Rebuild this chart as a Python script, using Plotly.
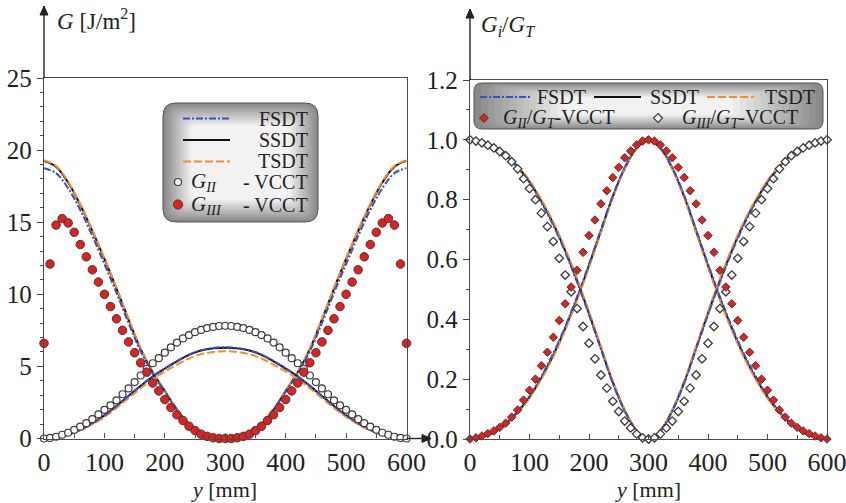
import plotly.graph_objects as go

W, H = 846, 503
FONT = "Liberation Serif"

# ---------------- data ----------------
y_line = [0, 20, 40, 60, 80, 100, 120, 140, 160, 180, 200, 220, 240, 260, 280, 300,
          320, 340, 360, 380, 400, 420, 440, 460, 480, 500, 520, 540, 560, 580, 600]
y_vcct = list(range(0, 601, 10))

# Left panel: energy release rates [J/m^2]
giii_fsdt = [18.75, 18.4, 17.35, 15.85, 14.05, 12.1, 10.1, 8.0, 6.05, 4.5, 3.25, 2.0, 1.0, 0.4, 0.08, 0.0,
             0.08, 0.4, 1.0, 2.0, 3.25, 4.5, 6.05, 8.0, 10.1, 12.1, 14.05, 15.85, 17.35, 18.4, 18.75]
giii_ssdt = [19.25, 18.85, 17.75, 16.2, 14.4, 12.45, 10.4, 8.25, 6.2, 4.6, 3.3, 2.0, 1.0, 0.4, 0.08, 0.0,
             0.08, 0.4, 1.0, 2.0, 3.3, 4.6, 6.2, 8.25, 10.4, 12.45, 14.4, 16.2, 17.75, 18.85, 19.25]
giii_tsdt = [19.3, 18.9, 17.8, 16.25, 14.45, 12.5, 10.45, 8.3, 6.25, 4.62, 3.3, 2.0, 1.0, 0.4, 0.08, 0.0,
             0.08, 0.4, 1.0, 2.0, 3.3, 4.62, 6.25, 8.3, 10.45, 12.5, 14.45, 16.25, 17.8, 18.9, 19.3]
gii_fsdt = [0.0, 0.08, 0.28, 0.6, 1.05, 1.6, 2.25, 2.95, 3.66, 4.31, 4.87, 5.37, 5.82, 6.12, 6.28, 6.33,
            6.28, 6.12, 5.82, 5.37, 4.87, 4.31, 3.66, 2.95, 2.25, 1.6, 1.05, 0.6, 0.28, 0.08, 0.0]
gii_ssdt = [0.0, 0.08, 0.28, 0.6, 1.05, 1.6, 2.25, 2.95, 3.65, 4.3, 4.85, 5.35, 5.8, 6.1, 6.25, 6.3,
            6.25, 6.1, 5.8, 5.35, 4.85, 4.3, 3.65, 2.95, 2.25, 1.6, 1.05, 0.6, 0.28, 0.08, 0.0]
gii_tsdt = [0.0, 0.07, 0.26, 0.56, 0.98, 1.5, 2.12, 2.8, 3.48, 4.12, 4.65, 5.12, 5.55, 5.85, 6.0, 6.05,
            6.0, 5.85, 5.55, 5.12, 4.65, 4.12, 3.48, 2.8, 2.12, 1.5, 0.98, 0.56, 0.26, 0.07, 0.0]

gii_vcct = [0.0, 0.04, 0.12, 0.26, 0.4, 0.6, 0.82, 1.06, 1.34, 1.67, 1.99, 2.3, 2.65, 3.07, 3.47, 3.91,
            4.37, 4.82, 5.22, 5.57, 5.95, 6.32, 6.65, 6.94, 7.17, 7.37, 7.53, 7.66, 7.74, 7.8, 7.82,
            7.8, 7.74, 7.66, 7.53, 7.37, 7.17, 6.94, 6.65, 6.32, 5.95, 5.57, 5.22, 4.82, 4.37, 3.91,
            3.47, 3.07, 2.65, 2.3, 1.99, 1.67, 1.34, 1.06, 0.82, 0.6, 0.4, 0.26, 0.12, 0.04, 0.0]
giii_vcct = [6.6, 12.1, 14.8, 15.25, 14.95, 14.3, 13.45, 12.6, 11.7, 10.85, 10.0, 9.15, 8.3, 7.5, 6.7, 5.95,
             5.25, 4.6, 3.85, 3.3, 2.7, 2.15, 1.65, 1.25, 0.85, 0.55, 0.3, 0.15, 0.05, 0.0, 0.0,
             0.0, 0.05, 0.15, 0.3, 0.55, 0.85, 1.25, 1.65, 2.15, 2.7, 3.3, 3.85, 4.6, 5.25, 5.95,
             6.7, 7.5, 8.3, 9.15, 10.0, 10.85, 11.7, 12.6, 13.45, 14.3, 14.95, 15.25, 14.8, 12.1, 6.6]

# Right panel: mode ratios Gi/GT
rii_fsdt = [0.0, 0.006, 0.023, 0.052, 0.093, 0.144, 0.21, 0.286, 0.376, 0.476, 0.585, 0.7, 0.814, 0.907, 0.973, 1.0,
            0.973, 0.907, 0.814, 0.7, 0.585, 0.476, 0.376, 0.286, 0.21, 0.144, 0.093, 0.052, 0.023, 0.006, 0.0]
rii_ssdt = [0.0, 0.006, 0.022, 0.05, 0.09, 0.14, 0.205, 0.28, 0.37, 0.47, 0.58, 0.695, 0.81, 0.905, 0.972, 1.0,
            0.972, 0.905, 0.81, 0.695, 0.58, 0.47, 0.37, 0.28, 0.205, 0.14, 0.09, 0.05, 0.022, 0.006, 0.0]
rii_tsdt = [0.0, 0.005, 0.021, 0.048, 0.087, 0.136, 0.2, 0.275, 0.364, 0.464, 0.574, 0.69, 0.806, 0.902, 0.97, 1.0,
            0.97, 0.902, 0.806, 0.69, 0.574, 0.464, 0.364, 0.275, 0.2, 0.136, 0.087, 0.048, 0.021, 0.005, 0.0]
riii_fsdt = [1.0, 0.994, 0.977, 0.948, 0.907, 0.856, 0.79, 0.714, 0.624, 0.524, 0.415, 0.3, 0.186, 0.093, 0.027, 0.0,
             0.027, 0.093, 0.186, 0.3, 0.415, 0.524, 0.624, 0.714, 0.79, 0.856, 0.907, 0.948, 0.977, 0.994, 1.0]
riii_ssdt = [1.0, 0.994, 0.978, 0.95, 0.91, 0.86, 0.795, 0.72, 0.63, 0.53, 0.42, 0.305, 0.19, 0.095, 0.028, 0.0,
             0.028, 0.095, 0.19, 0.305, 0.42, 0.53, 0.63, 0.72, 0.795, 0.86, 0.91, 0.95, 0.978, 0.994, 1.0]
riii_tsdt = [1.0, 0.995, 0.979, 0.952, 0.913, 0.864, 0.8, 0.725, 0.636, 0.536, 0.426, 0.31, 0.194, 0.098, 0.03, 0.0,
             0.03, 0.098, 0.194, 0.31, 0.426, 0.536, 0.636, 0.725, 0.8, 0.864, 0.913, 0.952, 0.979, 0.995, 1.0]

rii_vcct = [0.0, 0.004, 0.01, 0.018, 0.027, 0.039, 0.053, 0.073, 0.097, 0.13, 0.163, 0.2, 0.245, 0.29, 0.34, 0.396,
            0.452, 0.508, 0.564, 0.624, 0.68, 0.732, 0.786, 0.83, 0.874, 0.908, 0.94, 0.963, 0.983, 0.996, 1.0,
            0.996, 0.983, 0.963, 0.94, 0.908, 0.874, 0.83, 0.786, 0.732, 0.68, 0.624, 0.564, 0.508, 0.452, 0.396,
            0.34, 0.29, 0.245, 0.2, 0.163, 0.13, 0.097, 0.073, 0.053, 0.039, 0.027, 0.018, 0.01, 0.004, 0.0]
riii_vcct = [1.0, 0.996, 0.99, 0.982, 0.973, 0.961, 0.947, 0.927, 0.903, 0.87, 0.837, 0.8, 0.755, 0.71, 0.66, 0.604,
             0.548, 0.492, 0.436, 0.376, 0.32, 0.268, 0.214, 0.17, 0.126, 0.092, 0.06, 0.037, 0.017, 0.004, 0.0,
             0.004, 0.017, 0.037, 0.06, 0.092, 0.126, 0.17, 0.214, 0.268, 0.32, 0.376, 0.436, 0.492, 0.548, 0.604,
             0.66, 0.71, 0.755, 0.8, 0.837, 0.87, 0.903, 0.927, 0.947, 0.961, 0.973, 0.982, 0.99, 0.996, 1.0]

# ---------------- styles ----------------
BLUE = "#3550c8"
ORANGE = "#ff8a1e"
BLACK = "#111111"
RED = "#e3201c"
EDGE = "#3a3a3a"
DASH_F = "7px,2px,2px,2px"
DASH_T = "8px,3px"


def px(x):
    return x / W


def py(y):
    return 1 - y / H


fig = go.Figure()


def add_lines(xa, ya, ssdt, tsdt, fsdt):
    fig.add_trace(go.Scatter(x=y_line, y=ssdt, mode="lines", line=dict(color=BLACK, width=2, shape="spline"),
                             xaxis=xa, yaxis=ya, showlegend=False, name="SSDT"))
    fig.add_trace(go.Scatter(x=y_line, y=tsdt, mode="lines", line=dict(color=ORANGE, width=2, dash=DASH_T, shape="spline"),
                             xaxis=xa, yaxis=ya, showlegend=False, name="TSDT"))
    fig.add_trace(go.Scatter(x=y_line, y=fsdt, mode="lines", line=dict(color=BLUE, width=2, dash=DASH_F, shape="spline"),
                             xaxis=xa, yaxis=ya, showlegend=False, name="FSDT"))


add_lines("x", "y", giii_ssdt, giii_tsdt, giii_fsdt)
add_lines("x", "y", gii_ssdt, gii_tsdt, gii_fsdt)
add_lines("x2", "y2", rii_ssdt, rii_tsdt, rii_fsdt)
add_lines("x2", "y2", riii_ssdt, riii_tsdt, riii_fsdt)

fig.add_trace(go.Scatter(x=y_vcct, y=gii_vcct, mode="markers", cliponaxis=False, name="G_II - VCCT",
                         marker=dict(symbol="circle", size=7, color="white", line=dict(color=EDGE, width=1.2)),
                         xaxis="x", yaxis="y", showlegend=False))
fig.add_trace(go.Scatter(x=y_vcct, y=giii_vcct, mode="markers", cliponaxis=False, name="G_III - VCCT",
                         marker=dict(symbol="circle", size=8.5, color=RED, line=dict(color=EDGE, width=1)),
                         xaxis="x", yaxis="y", showlegend=False))
fig.add_trace(go.Scatter(x=y_vcct, y=riii_vcct, mode="markers", cliponaxis=False, name="G_III/G_T-VCCT",
                         marker=dict(symbol="diamond", size=6.5, color="white", line=dict(color=EDGE, width=1.3)),
                         xaxis="x2", yaxis="y2", showlegend=False))
fig.add_trace(go.Scatter(x=y_vcct, y=rii_vcct, mode="markers", cliponaxis=False, name="G_II/G_T-VCCT",
                         marker=dict(symbol="diamond", size=6.5, color=RED, line=dict(color=EDGE, width=1)),
                         xaxis="x2", yaxis="y2", showlegend=False))

# ---------------- axes ----------------
xtickfont = dict(family=FONT, size=26, color="#222222")
ytickfont = dict(family=FONT, size=25, color="#222222")
axcommon = dict(showline=True, linecolor="#4a4a4a", linewidth=1.4, mirror=True, showgrid=False,
                zeroline=False, tickcolor="#4a4a4a", tickwidth=1.2, automargin=False,
                ticklabeloverflow="allow")

fig.update_layout(
    width=W, height=H, margin=dict(l=0, r=0, t=0, b=0, autoexpand=False),
    paper_bgcolor="white", plot_bgcolor="white",
    xaxis=dict(domain=[px(44), px(406.5)], range=[0, 600], dtick=100, ticks="inside", ticklen=5, tickfont=xtickfont,
               minor=dict(dtick=50, ticks="inside", ticklen=4, tickcolor="#4a4a4a"), anchor="y", **axcommon),
    yaxis=dict(domain=[py(438.5), py(78)], range=[0, 25], dtick=5, ticks="outside", ticklen=6, tickfont=ytickfont,
               minor=dict(dtick=1, ticks="outside", ticklen=3, tickcolor="#4a4a4a"), anchor="x", **axcommon),
    xaxis2=dict(domain=[px(470), px(827)], range=[0, 600], dtick=100, ticks="inside", ticklen=5, tickfont=xtickfont,
                minor=dict(dtick=50, ticks="inside", ticklen=4, tickcolor="#4a4a4a"), anchor="y2", **axcommon),
    yaxis2=dict(domain=[py(439), py(80)], range=[0, 1.2], dtick=0.2, tickformat=".1f", ticks="outside", ticklen=6,
                tickfont=ytickfont,
                minor=dict(dtick=0.1, ticks="outside", ticklen=3, tickcolor="#4a4a4a"), anchor="x2", **axcommon),
)

annotations = []
shapes = []


def arrow(x0, y0, x1, y1):
    # axis extension line ending in a filled arrowhead at (x1, y1)
    shapes.append(dict(type="line", xref="paper", yref="paper", x0=px(x0), y0=py(y0), x1=px(x1), y1=py(y1),
                       line=dict(color="#222222", width=1.4)))
    L, Wd = 9, 4
    if x0 == x1:
        pts = [(x1, y1), (x1 + Wd, y1 + L), (x1 - Wd, y1 + L)]
    else:
        pts = [(x1, y1), (x1 - L, y1 - Wd), (x1 - L, y1 + Wd)]
    path = "M " + " L ".join(f"{px(a):.5f},{py(b):.5f}" for a, b in pts) + " Z"
    shapes.append(dict(type="path", xref="paper", yref="paper", path=path, fillcolor="#222222",
                       line=dict(color="#222222", width=1)))


arrow(44, 78, 44, 6)
arrow(406.5, 438.5, 431, 438.5)
arrow(470, 80, 470, 9)


def text(x, y, s, size=21, anchor="left"):
    annotations.append(dict(xref="paper", yref="paper", x=px(x), y=py(y), text=s, showarrow=False,
                            xanchor=anchor, yanchor="middle", borderpad=0,
                            font=dict(family=FONT, size=size, color="#222222")))


# axis titles
text(56, 19, "<i>G</i> [J/m<sup>2</sup>]", size=23)
text(480, 26, "<i>G</i><sub><i>i</i></sub>/<i>G</i><sub><i>T</i></sub>", size=23)
text(224, 489, "<i>y</i> [mm]", size=22, anchor="center")
text(648, 489, "<i>y</i> [mm]", size=22, anchor="center")


def rr_path(x0, y0, x1, y1, r):
    def p(x, y):
        return f"{px(x):.5f},{py(y):.5f}"
    return (f"M {p(x0 + r, y0)} L {p(x1 - r, y0)} Q {p(x1, y0)} {p(x1, y0 + r)} "
            f"L {p(x1, y1 - r)} Q {p(x1, y1)} {p(x1 - r, y1)} L {p(x0 + r, y1)} "
            f"Q {p(x0, y1)} {p(x0, y1 - r)} L {p(x0, y0 + r)} Q {p(x0, y0)} {p(x0 + r, y0)} Z")


def gradient_box(x0, y0, x1, y1, r, ix, iy, n=14, c0=138, c1=242):
    for i in range(n):
        t = i / (n - 1)
        g = int(c0 + (c1 - c0) * t)
        col = f"rgb({g},{g},{g})"
        dx, dy = ix * t, iy * t
        rr = max(r - min(dx, dy) * 0.3, 3)
        shapes.append(dict(type="path", xref="paper", yref="paper",
                           path=rr_path(x0 + dx, y0 + dy, x1 - dx, y1 - dy, rr), fillcolor=col,
                           line=dict(color="#555555" if i == 0 else col, width=1 if i == 0 else 0)))


def line_sample(x0, x1, y, color, dash):
    shapes.append(dict(type="line", xref="paper", yref="paper", x0=px(x0), x1=px(x1), y0=py(y), y1=py(y),
                       line=dict(color=color, width=2, dash=dash)))


def circle_sample(cx, cy, r, fill, lw):
    shapes.append(dict(type="circle", xref="paper", yref="paper", x0=px(cx - r), x1=px(cx + r),
                       y0=py(cy + r), y1=py(cy - r), fillcolor=fill, line=dict(color=EDGE, width=lw)))


def diamond_sample(cx, cy, h, fill, lw):
    path = (f"M {px(cx):.5f},{py(cy - h):.5f} L {px(cx + h):.5f},{py(cy):.5f} "
            f"L {px(cx):.5f},{py(cy + h):.5f} L {px(cx - h):.5f},{py(cy):.5f} Z")
    shapes.append(dict(type="path", xref="paper", yref="paper", path=path, fillcolor=fill,
                       line=dict(color=EDGE, width=lw)))


# left legend
gradient_box(163, 103, 318, 222, 13, 28, 22)
line_sample(183, 230, 118.5, BLUE, DASH_F)
line_sample(183, 230, 140, BLACK, "solid")
line_sample(183, 230, 161.5, ORANGE, DASH_T)
circle_sample(178, 182, 3.5, "white", 1.2)
circle_sample(178, 204.5, 4.6, RED, 1)
text(309, 118.5, "FSDT", size=20, anchor="right")
text(309, 140, "SSDT", size=20, anchor="right")
text(309, 161.5, "TSDT", size=20, anchor="right")
text(190, 182, "<i>G</i><sub><i>II</i></sub>", size=21)
text(309, 182, "- VCCT", size=20, anchor="right")
text(190, 205, "<i>G</i><sub><i>III</i></sub>", size=21)
text(309, 205, "- VCCT", size=20, anchor="right")

# right legend
gradient_box(474, 83, 823, 129, 8, 90, 14)
line_sample(480, 530, 97, BLUE, DASH_F)
line_sample(594, 641, 97, BLACK, "solid")
line_sample(707, 754, 97, ORANGE, DASH_T)
diamond_sample(484, 118, 4.5, RED, 1)
diamond_sample(658, 118, 4.5, "white", 1.2)
text(536, 97, "FSDT", size=20)
text(649, 97, "SSDT", size=20)
text(764, 97, "TSDT", size=20)
text(502, 118.5, "<i>G</i><sub><i>II</i></sub>/<i>G</i><sub><i>T</i></sub>-VCCT", size=20)
text(681, 118.5, "<i>G</i><sub><i>III</i></sub>/<i>G</i><sub><i>T</i></sub>-VCCT", size=20)

fig.update_layout(annotations=annotations, shapes=shapes)
fig.write_html("out.html", config={"displayModeBar": False},
               post_script="document.body.style.margin='0';document.body.style.padding='0';"
                           "document.documentElement.style.overflow='hidden';")
